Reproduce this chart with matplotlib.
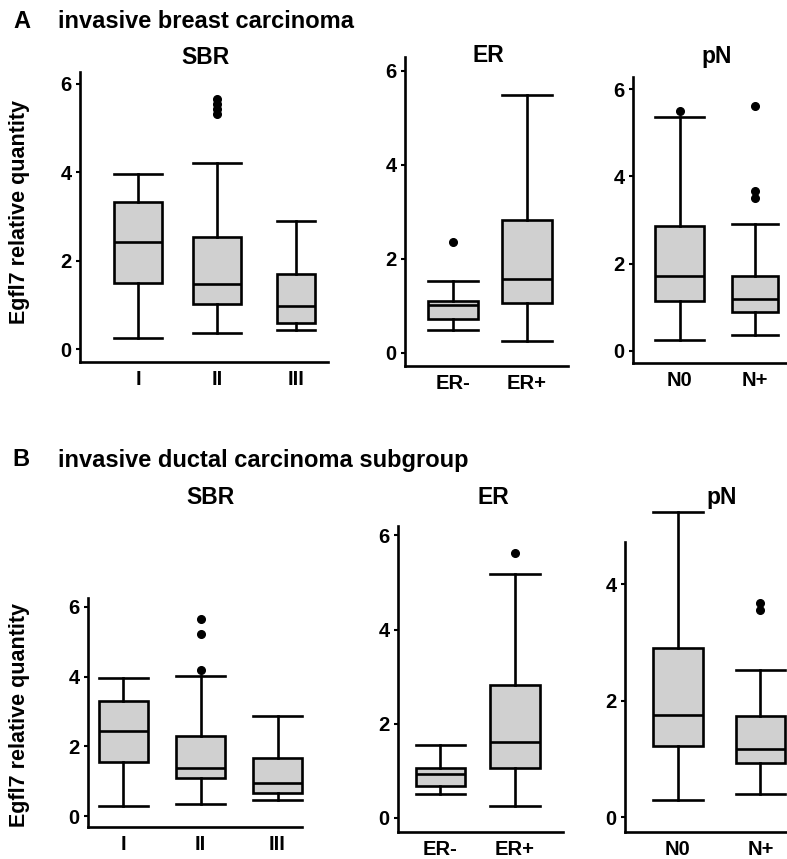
import matplotlib.pyplot as plt

plt.rcParams['font.family'] = ['Liberation Sans', 'DejaVu Sans']
plt.rcParams['font.weight'] = 'bold'

box_face = '#d0d0d0'
W, H = 787, 859

# ---- panel A: invasive breast carcinoma ----
a_sbr_labels = ['I', 'II', 'III']
a_sbr_q1 = [1.50, 1.02, 0.59]
a_sbr_med = [2.42, 1.47, 0.97]
a_sbr_q3 = [3.33, 2.54, 1.69]
a_sbr_lo = [0.25, 0.36, 0.43]
a_sbr_hi = [3.96, 4.21, 2.90]
a_sbr_fliers = [[], [5.33, 5.43, 5.55, 5.66], []]

a_er_labels = ['ER-', 'ER+']
a_er_q1 = [0.71, 1.05]
a_er_med = [1.01, 1.56]
a_er_q3 = [1.11, 2.82]
a_er_lo = [0.48, 0.26]
a_er_hi = [1.52, 5.48]
a_er_fliers = [[2.36], []]

a_pn_labels = ['N0', 'N+']
a_pn_q1 = [1.15, 0.88]
a_pn_med = [1.72, 1.19]
a_pn_q3 = [2.87, 1.72]
a_pn_lo = [0.25, 0.37]
a_pn_hi = [5.36, 2.91]
a_pn_fliers = [[5.50], [3.50, 3.66, 5.61]]

# ---- panel B: invasive ductal carcinoma subgroup ----
b_sbr_labels = ['I', 'II', 'III']
b_sbr_q1 = [1.56, 1.08, 0.65]
b_sbr_med = [2.44, 1.37, 0.95]
b_sbr_q3 = [3.30, 2.29, 1.68]
b_sbr_lo = [0.29, 0.36, 0.46]
b_sbr_hi = [3.96, 4.01, 2.87]
b_sbr_fliers = [[], [4.20, 5.21, 5.66], []]

b_er_labels = ['ER-', 'ER+']
b_er_q1 = [0.67, 1.05]
b_er_med = [0.94, 1.61]
b_er_q3 = [1.07, 2.82]
b_er_lo = [0.50, 0.26]
b_er_hi = [1.54, 5.19]
b_er_fliers = [[], [5.63]]

b_pn_labels = ['N0', 'N+']
b_pn_q1 = [1.22, 0.94]
b_pn_med = [1.76, 1.18]
b_pn_q3 = [2.90, 1.74]
b_pn_lo = [0.29, 0.40]
b_pn_hi = [5.24, 2.52]
b_pn_fliers = [[], [3.56, 3.68]]


def make_ax(px_left, px_top, px_right, px_bottom):
    return fig.add_axes([px_left / W, 1 - px_bottom / H,
                         (px_right - px_left) / W, (px_bottom - px_top) / H])


def draw(ax, labels, q1, med, q3, lo, hi, fliers, xlim, ylim, widths, yticks):
    stats = []
    for i in range(len(labels)):
        stats.append(dict(q1=q1[i], med=med[i], q3=q3[i], whislo=lo[i],
                          whishi=hi[i], fliers=fliers[i], label=labels[i]))
    pos = list(range(1, len(labels) + 1))
    ax.bxp(stats, positions=pos, widths=widths, patch_artist=True,
           boxprops=dict(facecolor=box_face, edgecolor='black', linewidth=1.9),
           medianprops=dict(color='black', linewidth=1.9),
           whiskerprops=dict(color='black', linewidth=1.9),
           capprops=dict(color='black', linewidth=1.9),
           capwidths=widths,
           flierprops=dict(marker='o', markerfacecolor='black',
                           markeredgecolor='black', markersize=5.5))
    for art in ax.lines + ax.patches:
        art.set_clip_on(False)
    ax.set_xlim(*xlim)
    ax.set_ylim(*ylim)
    ax.set_yticks(yticks)
    ax.set_xticks(pos)
    ax.set_xticklabels(labels)
    for s in ['top', 'right']:
        ax.spines[s].set_visible(False)
    for s in ['left', 'bottom']:
        ax.spines[s].set_linewidth(1.9)
    ax.tick_params(axis='x', length=0, pad=6, labelsize=14.5)
    ax.tick_params(axis='y', length=3, width=1.5, pad=3, labelsize=14.5)


fig = plt.figure(figsize=(7.87, 8.59), dpi=100)

# row A
ax = make_ax(80, 72, 328, 362)
draw(ax, a_sbr_labels, a_sbr_q1, a_sbr_med, a_sbr_q3, a_sbr_lo, a_sbr_hi, a_sbr_fliers,
     (0.266, 3.405), (-0.29, 6.27), [0.61, 0.61, 0.47], [0, 2, 4, 6])
ax = make_ax(405, 57, 568, 366)
draw(ax, a_er_labels, a_er_q1, a_er_med, a_er_q3, a_er_lo, a_er_hi, a_er_fliers,
     (0.351, 2.554), (-0.28, 6.29), [0.67, 0.67], [0, 2, 4, 6])
ax = make_ax(633, 77, 786, 363)
draw(ax, a_pn_labels, a_pn_q1, a_pn_med, a_pn_q3, a_pn_lo, a_pn_hi, a_pn_fliers,
     (0.382, 2.41), (-0.28, 6.28), [0.64, 0.6], [0, 2, 4, 6])

# row B
ax = make_ax(88, 598, 302, 827)
draw(ax, b_sbr_labels, b_sbr_q1, b_sbr_med, b_sbr_q3, b_sbr_lo, b_sbr_hi, b_sbr_fliers,
     (0.539, 3.318), (-0.31, 6.25), [0.636, 0.636, 0.636], [0, 2, 4, 6])
ax = make_ax(398, 526, 563, 832)
draw(ax, b_er_labels, b_er_q1, b_er_med, b_er_q3, b_er_lo, b_er_hi, b_er_fliers,
     (0.43, 2.644), (-0.30, 6.2), [0.66, 0.66], [0, 2, 4, 6])
ax = make_ax(625, 542, 787, 832)
draw(ax, b_pn_labels, b_pn_q1, b_pn_med, b_pn_q3, b_pn_lo, b_pn_hi, b_pn_fliers,
     (0.364, 2.32), (-0.25, 4.72), [0.6, 0.6], [0, 2, 4])

# titles
def ftext(x, y, s, **kw):
    fig.text(x / W, 1 - y / H, s, **kw)

ftext(13, 22, 'A', fontsize=17, ha='left', va='center')
ftext(58, 22, 'invasive breast carcinoma', fontsize=17, ha='left', va='center')
ftext(12, 460, 'B', fontsize=17, ha='left', va='center')
ftext(58, 460, 'invasive ductal carcinoma subgroup', fontsize=17, ha='left', va='center')

for x, y, s in [(205, 57, 'SBR'), (488, 56, 'ER'), (717, 57, 'pN'),
                (210, 497, 'SBR'), (493, 497, 'ER'), (722, 497, 'pN')]:
    ftext(x, y, s, fontsize=16.5, ha='center', va='center')

ftext(20, 212, 'Egfl7 relative quantity', fontsize=15.5, rotation=90, ha='center', va='center')
ftext(20, 715, 'Egfl7 relative quantity', fontsize=15.5, rotation=90, ha='center', va='center')

plt.savefig('out.png', dpi=100)
